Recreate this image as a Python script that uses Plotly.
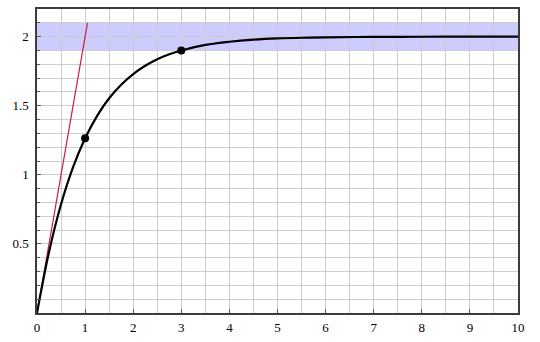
import plotly.graph_objects as go

# Step response
t_vals = [0, 0.25, 0.5, 0.75, 1.0, 1.25, 1.5, 1.75, 2.0, 2.25, 2.5, 2.75, 3.0, 3.5, 4.0, 4.5, 5.0, 5.5, 6.0, 7.0, 8.0, 9.0, 10.0]
y_vals = [0, 0.442, 0.787, 1.055, 1.264, 1.427, 1.554, 1.652, 1.729, 1.789, 1.836, 1.872, 1.900, 1.940, 1.963, 1.978, 1.987, 1.992, 1.995, 1.998, 1.999, 2.0, 2.0]

# Marked points
mark_t = [1, 3]
mark_y = [1.264, 1.900]

# Tangent at origin
tan_t = [0, 1.05]
tan_y = [0, 2.1]

# Tolerance band
band_lo = 1.9
band_hi = 2.1

x_ticks = [0, 1, 2, 3, 4, 5, 6, 7, 8, 9, 10]
y_ticks = [0.5, 1, 1.5, 2]
y_tick_labels = ["0.5", "1", "1.5", "2"]

fig = go.Figure()

fig.add_shape(type="rect", xref="x", yref="y", x0=0, x1=10, y0=band_lo, y1=band_hi,
              fillcolor="rgb(204,204,255)", line_width=0, layer="below")

fig.add_trace(go.Scatter(x=tan_t, y=tan_y, mode="lines",
                         line=dict(color="rgb(200,30,70)", width=1.2), showlegend=False))
fig.add_trace(go.Scatter(x=t_vals, y=y_vals, mode="lines",
                         line=dict(color="black", width=2.2, shape="spline", smoothing=1.0),
                         showlegend=False))
fig.add_trace(go.Scatter(x=mark_t, y=mark_y, mode="markers",
                         marker=dict(color="black", size=8), showlegend=False))

grid_col = "rgb(205,205,205)"
fig.update_layout(
    width=540, height=342,
    margin=dict(l=37, r=22, t=7, b=24),
    paper_bgcolor="white", plot_bgcolor="white",
    font=dict(family="'Liberation Serif', 'DejaVu Serif', serif", size=13, color="black"),
    xaxis=dict(range=[0, 10], tickvals=x_ticks, ticktext=[str(v) for v in x_ticks],
               showgrid=True, gridcolor=grid_col, gridwidth=1,
               minor=dict(dtick=0.5, showgrid=True, gridcolor=grid_col, gridwidth=1),
               showline=True, linecolor="rgb(60,60,60)", linewidth=1.5, mirror=True,
               ticks="inside", ticklen=4, tickcolor="rgb(90,90,90)",
               zeroline=False, ticklabelstandoff=2),
    yaxis=dict(range=[0, 2.2], tickvals=y_ticks, ticktext=y_tick_labels,
               showgrid=True, gridcolor=grid_col, gridwidth=1,
               minor=dict(dtick=0.1, showgrid=True, gridcolor=grid_col, gridwidth=1,
                          ticks="inside", ticklen=3, tickcolor="rgb(90,90,90)"),
               showline=True, linecolor="rgb(60,60,60)", linewidth=1.5, mirror=True,
               ticks="inside", ticklen=4, tickcolor="rgb(90,90,90)",
               zeroline=False, ticklabelstandoff=4),
)

fig.write_html("out.html")
